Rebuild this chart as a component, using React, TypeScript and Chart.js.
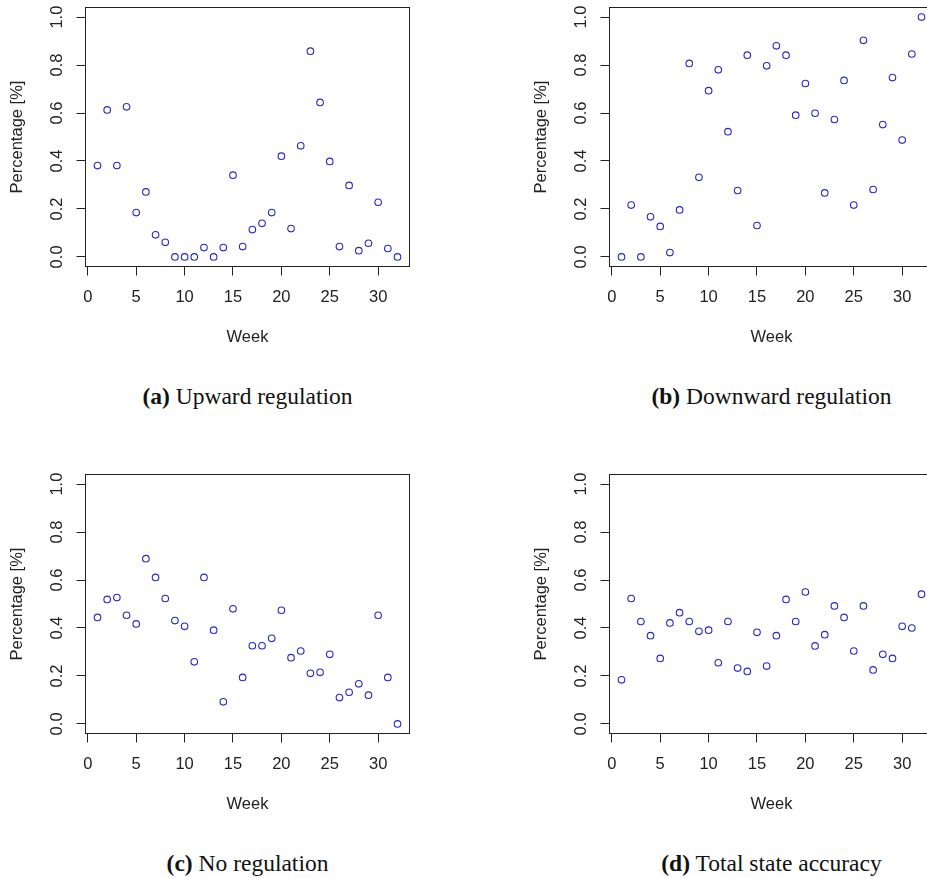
import React, { useEffect, useRef } from 'react';
import { Chart, registerables } from 'chart.js';

Chart.register(...registerables);

const weeks = [1, 2, 3, 4, 5, 6, 7, 8, 9, 10, 11, 12, 13, 14, 15, 16, 17, 18, 19, 20, 21, 22, 23, 24, 25, 26, 27, 28, 29, 30, 31, 32];

const upwardRegulation = [0.381, 0.613, 0.381, 0.626, 0.185, 0.271, 0.092, 0.061, 0.0, 0.0, 0.0, 0.039, 0.0, 0.039, 0.341, 0.043, 0.114, 0.14, 0.185, 0.42, 0.118, 0.463, 0.858, 0.644, 0.398, 0.043, 0.298, 0.026, 0.057, 0.228, 0.035, 0.0];

const downwardRegulation = [0.0, 0.216, 0.0, 0.167, 0.127, 0.018, 0.196, 0.807, 0.332, 0.693, 0.78, 0.522, 0.277, 0.841, 0.131, 0.797, 0.88, 0.841, 0.591, 0.723, 0.599, 0.267, 0.573, 0.736, 0.216, 0.903, 0.281, 0.552, 0.748, 0.487, 0.846, 1.0];

const noRegulation = [0.444, 0.519, 0.527, 0.453, 0.417, 0.689, 0.611, 0.523, 0.431, 0.407, 0.259, 0.611, 0.391, 0.092, 0.48, 0.194, 0.326, 0.326, 0.357, 0.474, 0.276, 0.304, 0.211, 0.215, 0.29, 0.11, 0.132, 0.167, 0.12, 0.453, 0.194, 0.0];

const totalStateAccuracy = [0.184, 0.523, 0.427, 0.368, 0.273, 0.421, 0.464, 0.427, 0.386, 0.391, 0.255, 0.427, 0.233, 0.219, 0.382, 0.241, 0.368, 0.519, 0.427, 0.55, 0.325, 0.372, 0.492, 0.444, 0.304, 0.492, 0.225, 0.29, 0.273, 0.407, 0.4, 0.541];

const xTicks = [0, 5, 10, 15, 20, 25, 30];
const yTicks = [0.0, 0.2, 0.4, 0.6, 0.8, 1.0];

const xTitle = 'Week';
const yTitle = 'Percentage [%]';

const captionLetters = ['(a)', '(b)', '(c)', '(d)'];
const captionTexts = ['Upward regulation', 'Downward regulation', 'No regulation', 'Total state accuracy'];

const SANS = "'Liberation Sans', Arial, Helvetica, sans-serif";
const SERIF = "'Liberation Serif', 'Times New Roman', Times, serif";
const INK = '#222222';
const POINT = 'rgb(40, 40, 200)';

const CANVAS_W = 463;
const CANVAS_H = 380;

const boxPlugin = {
  id: 'rBox',
  afterDraw(chart: any) {
    const { ctx, chartArea } = chart;
    ctx.save();
    ctx.strokeStyle = INK;
    ctx.lineWidth = 1;
    ctx.strokeRect(chartArea.left, chartArea.top, chartArea.right - chartArea.left, chartArea.bottom - chartArea.top);
    ctx.restore();
  },
};

function zeroPad(s: any) {
  s.paddingTop = 0;
  s.paddingBottom = 0;
  s.paddingLeft = 0;
  s.paddingRight = 0;
}

function Panel(props: { values: number[]; left: number; top: number; letter: string; text: string }) {
  const { values, left, top, letter, text } = props;
  const ref = useRef<HTMLCanvasElement>(null);

  useEffect(() => {
    const canvas = ref.current;
    if (!canvas) return;
    const chart = new Chart(canvas, {
      type: 'scatter',
      data: {
        datasets: [
          {
            data: weeks.map((w, i) => ({ x: w, y: values[i] })),
            pointStyle: 'circle',
            pointRadius: 3.3,
            pointHoverRadius: 3.3,
            pointBorderWidth: 1.1,
            pointBackgroundColor: 'rgba(0,0,0,0)',
            pointBorderColor: POINT,
            borderColor: POINT,
            backgroundColor: 'rgba(0,0,0,0)',
            showLine: false,
          },
        ],
      },
      options: {
        responsive: false,
        animation: false,
        devicePixelRatio: 1,
        layout: { padding: { left: 0, top: 7.5, right: 53.5, bottom: 0 } },
        plugins: {
          legend: { display: false },
          tooltip: { enabled: false },
          title: { display: false },
        },
        events: [],
        scales: {
          x: {
            type: 'linear',
            position: 'bottom',
            min: -0.24,
            max: 33.24,
            afterBuildTicks: (s: any) => {
              s.ticks = xTicks.map((v) => ({ value: v }));
            },
            afterFit: (s: any) => {
              s.height = 113.5;
              zeroPad(s);
            },
            grid: { drawOnChartArea: false, drawTicks: true, tickLength: 9, color: INK, lineWidth: 1 },
            border: { display: false },
            ticks: {
              font: { family: SANS, size: 16.5 },
              color: INK,
              padding: 12.5,
              maxRotation: 0,
              minRotation: 0,
              autoSkip: false,
              callback: (v: any) => String(v),
            },
            title: {
              display: true,
              text: xTitle,
              font: { family: SANS, size: 16.5 },
              color: INK,
              padding: { top: 0, bottom: 32.6 },
            },
          },
          y: {
            type: 'linear',
            position: 'left',
            min: -0.04,
            max: 1.04,
            afterBuildTicks: (s: any) => {
              s.ticks = yTicks.map((v) => ({ value: v }));
            },
            afterFit: (s: any) => {
              s.width = 85.5;
              zeroPad(s);
            },
            grid: { drawOnChartArea: false, drawTicks: true, tickLength: 9, color: INK, lineWidth: 1 },
            border: { display: false },
            ticks: {
              font: { family: SANS, size: 16.5 },
              color: INK,
              padding: 7.5,
              minRotation: 90,
              maxRotation: 90,
              crossAlign: 'center',
              autoSkip: false,
              callback: (v: any) => Number(v).toFixed(1),
            },
            title: {
              display: true,
              text: yTitle,
              font: { family: SANS, size: 16.5 },
              color: INK,
              padding: { top: 7.6, bottom: 0 },
            },
          },
        },
      } as any,
      plugins: [boxPlugin],
    });
    return () => chart.destroy();
  }, [values]);

  return (
    <>
      <canvas
        ref={ref}
        width={CANVAS_W}
        height={CANVAS_H}
        style={{ position: 'absolute', left, top, width: CANVAS_W, height: CANVAS_H }}
      />
      <div
        style={{
          position: 'absolute',
          left: left + 47.5,
          top: top + 384.7,
          width: 400,
          textAlign: 'center',
          fontFamily: SERIF,
          fontSize: 23.5,
          lineHeight: '23.5px',
          color: '#111',
          whiteSpace: 'nowrap',
        }}
      >
        <b>{letter}</b> {text}
      </div>
    </>
  );
}

export default function App() {
  const panels = [
    { values: upwardRegulation, left: 0, top: 0 },
    { values: downwardRegulation, left: 524, top: 0 },
    { values: noRegulation, left: 0, top: 467 },
    { values: totalStateAccuracy, left: 524, top: 467 },
  ];
  return (
    <div
      style={{
        position: 'fixed',
        left: 0,
        top: 0,
        width: 927,
        height: 878,
        overflow: 'hidden',
        background: '#ffffff',
      }}
    >
      {panels.map((p, i) => (
        <Panel key={i} values={p.values} left={p.left} top={p.top} letter={captionLetters[i]} text={captionTexts[i]} />
      ))}
    </div>
  );
}
